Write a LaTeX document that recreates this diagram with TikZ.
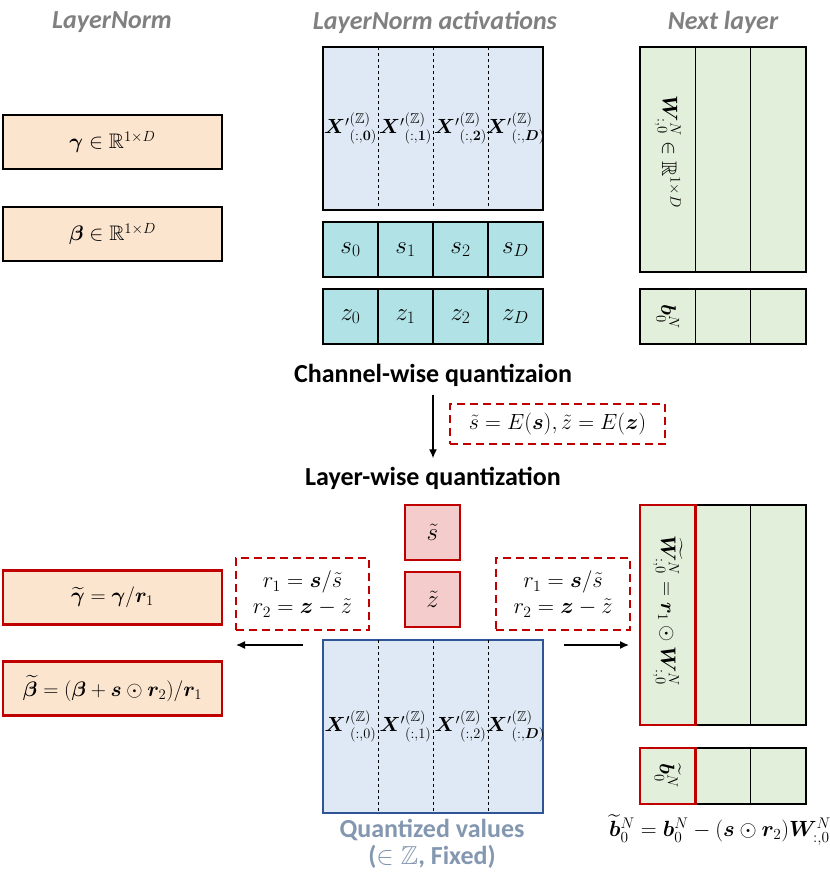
\RequirePackage{fix-cm}
\documentclass[tikz,border=0pt]{standalone}
\usepackage{amsmath, amssymb, bm}
\usepackage{fontspec}
\setsansfont{Carlito}
\usetikzlibrary{arrows.meta, positioning}
\definecolor{lnpeach}{RGB}{252,229,207}
\definecolor{actblue}{RGB}{222,233,245}
\definecolor{qblue}{RGB}{47,85,151}
\definecolor{scaleteal}{RGB}{176,226,230}
\definecolor{wgreen}{RGB}{226,239,218}
\definecolor{tildepink}{RGB}{245,204,204}
\definecolor{quantred}{RGB}{192,0,0}
\definecolor{titlegray}{RGB}{128,128,128}
\definecolor{qtext}{RGB}{132,151,176}

\tikzset{
  coltitle/.style={font=\sffamily\bfseries\itshape\fontsize{26}{30}\selectfont, text=titlegray},
  steptitle/.style={font=\sffamily\bfseries\fontsize{26}{30}\selectfont},
  mathbig/.style={font=\fontsize{21}{25}\selectfont},
  parambox/.style={draw, line width=1.6pt, fill=lnpeach, minimum width=219pt, minimum height=54pt, inner sep=0pt, mathbig},
  newparam/.style={parambox, draw=quantred, line width=2.6pt},
  actframe/.style={draw, line width=1.6pt, fill=actblue, minimum width=220pt, inner sep=0pt},
  xcol/.style={minimum width=55pt, inner sep=0pt, font=\fontsize{20.5}{24}\selectfont},
  cell/.style={draw, line width=1.4pt, fill=scaleteal, minimum size=55pt, inner sep=0pt, font=\fontsize{25}{28}\selectfont},
  wcell/.style={draw, line width=1.4pt, fill=wgreen, minimum width=55.33pt, inner sep=0pt},
  redcell/.style={draw=quantred, line width=2.6pt},
  tildebox/.style={draw=quantred, line width=2.6pt, fill=tildepink, minimum size=55pt, inner sep=0pt, font=\fontsize{25}{28}\selectfont},
  rulebox/.style={draw=quantred, dash pattern=on 8pt off 5pt, line width=2.2pt, inner sep=0pt, align=center, font=\fontsize{22.5}{26}\selectfont},
  flow/.style={-{Latex[length=9pt,width=8pt]}, line width=1.4pt},
}

\begin{document}
\begin{tikzpicture}[x=1pt, y=1pt]
  \useasboundingbox (0,0) rectangle (830,-873);

  % column titles
  \node[coltitle] (tln) at (112,-22) {LayerNorm};
  \node[coltitle] (tact) at (435,-22) {LayerNorm activations};
  \node[coltitle] (tnext) at (723,-22) {Next layer};

  % LayerNorm parameters
  \node[parambox] (gamma) at (112.5,-142) {$\bm{\gamma} \in \mathbb{R}^{1\times D}$};
  \node[parambox] (beta) at (112.5,-234) {$\bm{\beta} \in \mathbb{R}^{1\times D}$};

  % activations, scales and zero points
  \node[actframe, minimum height=163pt] (act) at (433,-128.5) {};
  \foreach \i/\l in {0/0, 1/1, 2/2, 3/D} {
    \node[xcol, minimum height=163pt] (act\i) at (350.5+55*\i,-128.5)
      {${\bm{X}'}^{(\mathbb{Z})}_{(:,\bm{\l})}$};
    \node[cell] (s\i) at (350.5+55*\i,-249.5) {$s_{\l}$};
    \node[cell] (z\i) at (350.5+55*\i,-316.5) {$z_{\l}$};
  }
  \foreach \i in {0,1,2}
    \draw[dashed, line width=1pt] (act\i.north east) -- (act\i.south east);

  % next layer
  \foreach \i in {2,1,0} {
    \node[wcell, minimum height=225pt] (w\i) at (667.7+55.33*\i,-159.5) {};
    \node[wcell, minimum height=55pt] (b\i) at (667.7+55.33*\i,-316.5) {};
  }
  \node[rotate=-90, mathbig] at (667.7,-152) {$\bm{W}^{N}_{:,0} \in \mathbb{R}^{1\times D}$};
  \node[rotate=-90, mathbig] at (667.7,-316.5) {$\bm{b}^{N}_{0}$};

  % quantization step
  \node[steptitle] (cwq) at (433,-375) {Channel-wise quantizaion};
  \node[steptitle] (lwq) at (433,-478) {Layer-wise quantization};
  \draw[flow, shorten <=5pt, shorten >=5pt] (cwq) -- (lwq);
  \node[rulebox, font=\fontsize{22}{26}\selectfont, minimum width=215pt, minimum height=40pt] (enc) at (557.5,-424)
    {$\tilde{s} = E(\bm{s}), \tilde{z} = E(\bm{z})$};

  \node[tildebox] (st) at (432.5,-532.5) {$\tilde{s}$};
  \node[tildebox] (zt) at (432.5,-599.5) {$\tilde{z}$};

  \node[rulebox, minimum width=133pt, minimum height=72pt] (rl) at (302.5,-594)
    {$r_1 = \bm{s}/\tilde{s}$\\$r_2 = \bm{z} - \tilde{z}$};
  \node[rulebox, minimum width=134pt, minimum height=72pt] (rr) at (563,-594)
    {$r_1 = \bm{s}/\tilde{s}$\\$r_2 = \bm{z} - \tilde{z}$};

  \coordinate (lfrom) at (303,-645);
  \coordinate (lto) at (236,-645);
  \coordinate (rfrom) at (564,-645);
  \coordinate (rto) at (629,-645);
  \draw[flow] (lfrom) -- (lto);
  \draw[flow] (rfrom) -- (rto);

  % quantized activations
  \node[actframe, draw=qblue, minimum height=173pt] (qact) at (433,-726.5) {};
  \foreach \i/\l in {0/0, 1/1, 2/2, 3/\bm{D}} {
    \node[xcol, minimum height=173pt] (qa\i) at (350.5+55*\i,-726.5)
      {${\bm{X}'}^{(\mathbb{Z})}_{(:,\l)}$};
  }
  \foreach \i in {0,1,2}
    \draw[dashed, line width=1pt] (qa\i.north east) -- (qa\i.south east);
  \node[steptitle, text=qtext, align=center] (qval) at (432,-844)
    {Quantized values\\[-3pt]($\in \mathbb{Z}$, Fixed)};

  % fused LayerNorm parameters
  \node[newparam] (gammat) at (112.5,-597.5) {$\widetilde{\bm{\gamma}} = \bm{\gamma}/\bm{r}_1$};
  \node[newparam] (betat) at (112.5,-688.5)
    {$\widetilde{\bm{\beta}} = (\bm{\beta} + \bm{s} \odot \bm{r}_2)/\bm{r}_1$};

  % fused next layer
  \foreach \i in {2,1,0} {
    \node[wcell, minimum height=220pt] (wt\i) at (667.7+55.33*\i,-615) {};
    \node[wcell, minimum height=56pt] (bt\i) at (667.7+55.33*\i,-776) {};
  }
  \node[wcell, redcell, minimum height=220pt] at (wt0) {};
  \node[wcell, redcell, minimum height=56pt] at (bt0) {};
  \node[rotate=-90, mathbig] at (667.7,-611)
    {$\widetilde{\bm{W}}^{N}_{:,0} = \bm{r}_1 \odot \bm{W}^{N}_{:,0}$};
  \node[rotate=-90, mathbig] at (667.7,-776) {$\widetilde{\bm{b}}^{N}_{0}$};
  \node[mathbig, font=\fontsize{22}{26}\selectfont] (bform) at (720,-830)
    {$\widetilde{\bm{b}}^{N}_{0} = \bm{b}^{N}_{0} - (\bm{s} \odot \bm{r}_2)\bm{W}^{N}_{:,0}$};
\end{tikzpicture}
\end{document}
